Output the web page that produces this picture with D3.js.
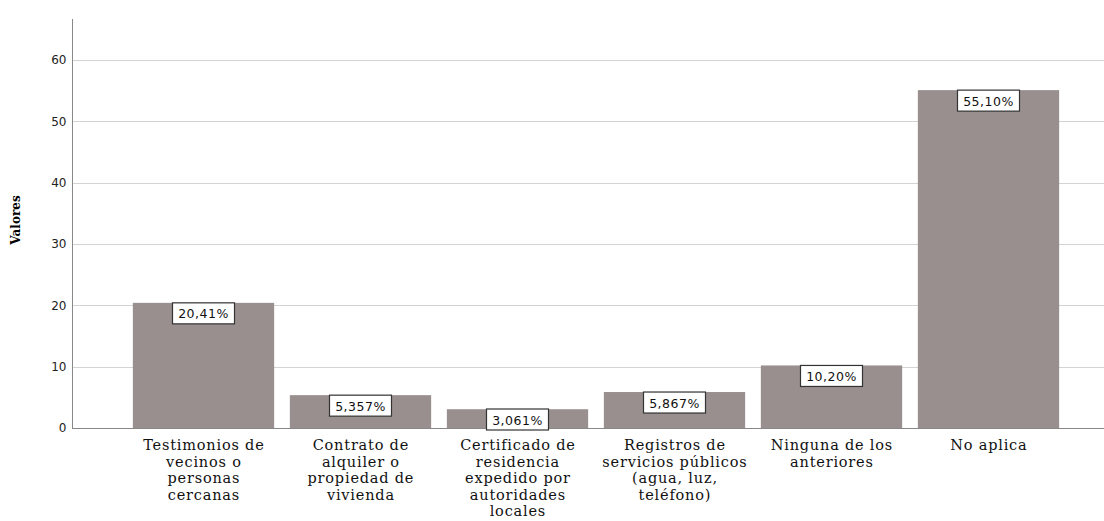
<!DOCTYPE html>
<html>
<head>
<meta charset="utf-8">
<script src="https://d3js.org/d3.v7.min.js"></script>
<style>
  body { margin: 0; background: #fff; }
</style>
</head>
<body>
<div id="chart"></div>
<script>
// data
var categories = [
  ["Testimonios de", "vecinos o", "personas", "cercanas"],
  ["Contrato de", "alquiler o", "propiedad de", "vivienda"],
  ["Certificado de", "residencia", "expedido por", "autoridades", "locales"],
  ["Registros de", "servicios públicos", "(agua, luz,", "teléfono)"],
  ["Ninguna de los", "anteriores"],
  ["No aplica"]
];
var values = [20.41, 5.357, 3.061, 5.867, 10.20, 55.10];
var valueLabels = ["20,41%", "5,357%", "3,061%", "5,867%", "10,20%", "55,10%"];
var yTicks = [0, 10, 20, 30, 40, 50, 60];

var width = 1104, height = 521;

var svg = d3.select("#chart").append("svg")
  .attr("width", width)
  .attr("height", height);

var x = d3.scaleBand()
  .domain(d3.range(values.length))
  .range([125, 1067])
  .paddingInner(0.1)
  .paddingOuter(0.05);

var y = d3.scaleLinear()
  .domain([0, 66.7])
  .range([428, 19]);

// grid lines
svg.append("g")
  .selectAll("line")
  .data(yTicks.filter(function(d) { return d > 0; }))
  .enter().append("line")
  .attr("x1", 72).attr("x2", width)
  .attr("y1", function(d) { return Math.round(y(d)) + 0.5; })
  .attr("y2", function(d) { return Math.round(y(d)) + 0.5; })
  .attr("stroke", "#d3d3d3")
  .attr("stroke-width", 1.2);

// bars
svg.append("g")
  .selectAll("rect")
  .data(values)
  .enter().append("rect")
  .attr("x", function(d, i) { return x(i); })
  .attr("y", function(d) { return y(d); })
  .attr("width", x.bandwidth())
  .attr("height", function(d) { return y(0) - y(d); })
  .attr("fill", "#998f8f");

// y axis
var yAxis = svg.append("g")
  .attr("transform", "translate(72.5,0)")
  .call(d3.axisLeft(y).tickValues(yTicks).tickSize(0).tickPadding(6));
yAxis.select(".domain").remove();
yAxis.selectAll("text")
  .style("font-family", "DejaVu Sans")
  .style("font-size", "12px")
  .attr("fill", "#222");

svg.append("line")
  .attr("x1", 72.5).attr("x2", 72.5)
  .attr("y1", 19).attr("y2", 428)
  .attr("stroke", "#888");
svg.append("line")
  .attr("x1", 72).attr("x2", width)
  .attr("y1", 428.5).attr("y2", 428.5)
  .attr("stroke", "#888");

// y title
svg.append("text")
  .attr("transform", "translate(20,220) rotate(-90)")
  .attr("text-anchor", "middle")
  .style("font-family", "'DejaVu Serif', serif")
  .style("font-weight", "bold")
  .style("font-size", "12px")
  .text("Valores");

// category labels
var cat = svg.append("g")
  .selectAll("text")
  .data(categories)
  .enter().append("text")
  .attr("text-anchor", "middle")
  .attr("x", function(d, i) { return x(i) + x.bandwidth() / 2 + 0.4; })
  .attr("y", 450)
  .style("font-family", "'DejaVu Serif', serif")
  .style("font-size", "14.5px")
  .style("letter-spacing", "0.8px")
  .attr("fill", "#111");
cat.selectAll("tspan")
  .data(function(d) { return d; })
  .enter().append("tspan")
  .attr("x", function() { return this.parentNode.getAttribute("x"); })
  .attr("dy", function(d, i) { return i === 0 ? 0 : 16.5; })
  .text(function(d) { return d; });

// value labels in boxes
var lab = svg.append("g")
  .selectAll("g")
  .data(values)
  .enter().append("g")
  .attr("transform", function(d, i) {
    var top = Math.min(y(d), 409);
    return "translate(" + (x(i) + x.bandwidth() / 2) + "," + top + ")";
  });
lab.append("rect")
  .attr("x", -31).attr("y", 0)
  .attr("width", 62).attr("height", 21)
  .attr("fill", "#fff")
  .attr("stroke", "#333")
  .attr("stroke-width", 1.2);
lab.append("text")
  .attr("text-anchor", "middle")
  .attr("y", 15.5)
  .style("font-family", "DejaVu Sans")
  .style("font-size", "12.5px")
  .style("letter-spacing", "0.5px")
  .attr("fill", "#111")
  .text(function(d, i) { return valueLabels[i]; });
</script>
</body>
</html>
